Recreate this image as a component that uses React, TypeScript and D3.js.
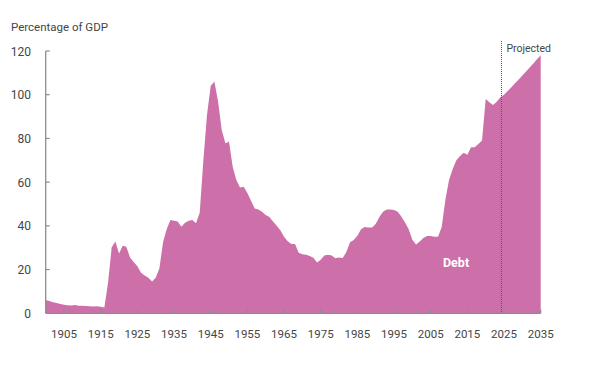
import * as d3 from 'd3';
import React, {useEffect} from 'react';

// federal debt held by the public, percentage of GDP
const years: number[] = d3.range(1900, 2036);
const debt: number[] = [
  6.1, 5.6, 5.1, 4.7, 4.2, 3.9, 3.7, 3.6, 3.8, 3.5,
  3.4, 3.3, 3.2, 3.1, 3.2, 3.0, 2.6, 14, 30.2, 32.8,
  27.4, 30.9, 30.5, 25.5, 23.5, 21.5, 18.5, 17.3, 16.3, 14.5,
  16.3, 20.5, 32.5, 38.5, 42.7, 42.3, 42, 39.6, 41.4, 42.3,
  42.7, 41.2, 46, 70, 91, 104, 106, 97, 84, 77.8,
  78.5, 67, 61, 57.5, 57.9, 55, 51.5, 48, 47.5, 46.5,
  45, 44, 42, 40, 38, 35, 33, 31.7, 31.7, 27.7,
  27, 26.8, 26.2, 25.4, 23.2, 24.5, 26.5, 26.8, 26.5, 25.2,
  25.5, 25.3, 28, 32.5, 33.5, 35.5, 38.5, 39.5, 39.3, 39.3,
  40.8, 44, 46.5, 47.5, 47.5, 47.3, 46.5, 44.3, 41.5, 38.5,
  33.7, 31.5, 32.8, 34.5, 35.4, 35.4, 35, 35, 39.5, 52,
  61, 66, 70, 72, 73.5, 72.5, 76, 76, 77.5, 79,
  98, 96.5, 95.3, 96.8, 98.8,
  // projected
  100, 101.7, 103.4, 105.2, 107, 108.8, 110.6, 112.5, 114.3, 116.2, 118
];
const yTicks: number[] = [0, 20, 40, 60, 80, 100, 120];
const xTicks: number[] = [1905, 1915, 1925, 1935, 1945, 1955, 1965, 1975, 1985, 1995, 2005, 2015, 2025, 2035];
const projectionYear = 2024.3;

export default function App() {
  const chartRef = React.useRef<HTMLDivElement>(null);

  useEffect(() => {
    drawChart();
  }, []);

  function drawChart() {
    const container = d3.select(chartRef.current);
    container.selectAll('*').remove();

    const width = 602, height = 368;
    const font = 'Roboto, "Liberation Sans", Arial, sans-serif';
    const axisColor = '#8c8c8c';
    const textColor = '#454545';

    const svg = container
      .append('svg')
      .attr('width', width)
      .attr('height', height)
      .style('position', 'absolute')
      .style('left', '0px')
      .style('top', '0px')
      .style('background', '#fff');

    const x = d3.scaleLinear()
      .domain([1900, 2035])
      .range([45.7, 540.7]);
    const y = d3.scaleLinear()
      .domain([0, 120])
      .range([313.3, 51]);

    const data = years.map((yr, i) => ({year: yr, value: debt[i]}));

    // the area
    const area = d3.area<{year: number, value: number}>()
      .x(d => x(d.year))
      .y0(y(0))
      .y1(d => y(d.value));
    svg.append('path')
      .datum(data)
      .attr('d', area)
      .attr('fill', '#cd70aa');

    // Y axis
    const yAxis = svg.append('g');
    yAxis.append('line')
      .attr('x1', x(1900)).attr('x2', x(1900))
      .attr('y1', y(120)).attr('y2', y(0))
      .attr('stroke', axisColor).attr('stroke-width', 1.3);
    yAxis.selectAll('.ytick')
      .data(yTicks.filter(d => d > 0))
      .enter()
      .append('line')
      .attr('x1', x(1900)).attr('x2', x(1900) + 4)
      .attr('y1', d => y(d)).attr('y2', d => y(d))
      .attr('stroke', axisColor).attr('stroke-width', 1.2);
    yAxis.selectAll('.ylabel')
      .data(yTicks)
      .enter()
      .append('text')
      .attr('x', 31)
      .attr('y', d => y(d) + 4.5)
      .attr('text-anchor', 'end')
      .attr('font-family', font)
      .attr('font-size', 12)
      .attr('fill', textColor)
      .text(d => d);

    // X axis
    const xAxis = svg.append('g');
    xAxis.append('line')
      .attr('x1', x(1900)).attr('x2', x(2035))
      .attr('y1', y(0)).attr('y2', y(0))
      .attr('stroke', axisColor).attr('stroke-width', 1.3);
    xAxis.selectAll('.xtick')
      .data(xTicks)
      .enter()
      .append('line')
      .attr('x1', d => x(d)).attr('x2', d => x(d))
      .attr('y1', y(0)).attr('y2', y(0) - 3.5)
      .attr('stroke', axisColor).attr('stroke-width', 1.2);
    xAxis.selectAll('.xlabel')
      .data(xTicks)
      .enter()
      .append('text')
      .attr('x', d => x(d))
      .attr('y', 338)
      .attr('text-anchor', 'middle')
      .attr('font-family', font)
      .attr('font-size', 11.5)
      .attr('fill', textColor)
      .text(d => d);

    // projection marker
    svg.append('line')
      .attr('x1', x(projectionYear)).attr('x2', x(projectionYear))
      .attr('y1', 41).attr('y2', y(0))
      .attr('stroke', '#555')
      .attr('stroke-width', 1)
      .attr('stroke-dasharray', '1,1');
    svg.append('text')
      .attr('x', x(projectionYear) + 5)
      .attr('y', 52)
      .attr('font-family', font)
      .attr('font-size', 10.5)
      .attr('fill', textColor)
      .text('Projected');

    // labels
    svg.append('text')
      .attr('x', 11)
      .attr('y', 31)
      .attr('font-family', font)
      .attr('font-size', 11.5)
      .attr('fill', textColor)
      .text('Percentage of GDP');
    svg.append('text')
      .attr('x', 443)
      .attr('y', 267)
      .attr('font-family', font)
      .attr('font-size', 12.5)
      .attr('font-weight', 'bold')
      .attr('fill', '#fff')
      .text('Debt');
  }

  return (
    <div ref={chartRef}></div>
  );
}
